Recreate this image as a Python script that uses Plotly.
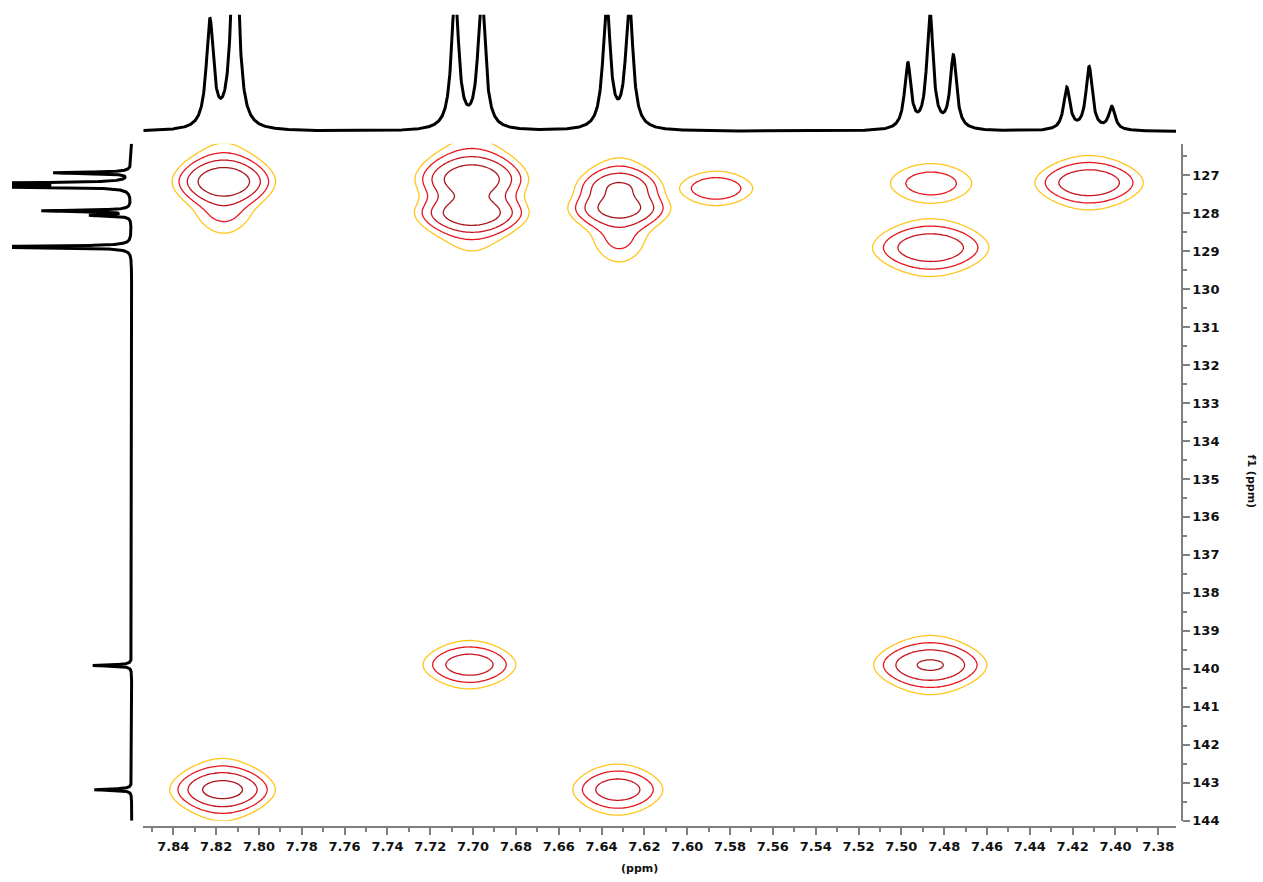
import numpy as np
import plotly.graph_objects as go

# ---------------- data ----------------
# 1H projection (top trace): line positions (ppm), heights (arb.), half widths (ppm)
h_shift = [7.8229, 7.8112, 7.7084, 7.6960, 7.6376, 7.6270,
           7.4970, 7.4866, 7.4757, 7.4227, 7.4123, 7.4017]
h_height = [107.6, 223, 138, 138, 129, 129, 66.3, 118, 73.8, 42.5, 63.6, 23.4]
h_hwhm = [0.00201, 0.00201, 0.00201, 0.00201, 0.00201, 0.00201,
          0.00178, 0.00178, 0.00178, 0.00178, 0.00178, 0.00178]

# 13C projection (left trace): line positions (ppm) and heights (arb.)
c_shift = [126.94, 127.22, 127.30, 127.94, 128.06, 128.89, 139.91, 143.18]
c_height = [77, 200, 200, 89, 40, 200, 39, 37.4]
c_hwhm = 0.02

# 2D cross peaks: group, f2 (1H) ppm, f1 (13C) ppm, amplitude, f2 width, f1 width
xp_group = [0, 0, 1, 1, 2, 2, 2, 3, 4, 5, 6, 7, 8, 9, 10]
xp_h = [7.8164, 7.8164, 7.7006, 7.7006, 7.6317, 7.6317, 7.6317, 7.5865,
        7.4861, 7.4863, 7.4123, 7.7017, 7.4865, 7.8170, 7.6324]
xp_c = [127.17, 128.05, 127.10, 128.00, 127.30, 127.88, 128.75, 127.35,
        127.22, 128.91, 127.20, 139.89, 139.90, 143.18, 143.18]
xp_amp = [15.7, 1.3, 14.2, 14.5, 7.3, 10.8, 1.6, 3.58,
          3.1, 7.6, 7.5, 6.5, 9.0, 11.3, 6.2]
xp_wh = [0.0103, 0.008, 0.0114, 0.0114, 0.0095, 0.0109, 0.008, 0.0107,
         0.0126, 0.0135, 0.0126, 0.0112, 0.0126, 0.0112, 0.0110]
xp_wc = [0.373, 0.373, 0.39, 0.326, 0.326, 0.326, 0.45, 0.313,
         0.39, 0.381, 0.36, 0.339, 0.365, 0.352, 0.365]

contour_levels_log2 = [0, 1, 2, 3, 4]  # levels 1, 2, 4, 8, 16
level_colors = ['#FFC61A', '#E8161E', '#C8141E', '#A8161C', '#8E1418']

x_range = [7.85401, 7.37173]
y_range = [144.0, 126.173]

# ---------------- build curves ----------------
def lorentz(x, x0, h, w):
    return h / (1.0 + ((x - x0) / w) ** 2)

def pvoigt(d, w):
    t2 = (d / w) ** 2
    return 0.5 / (1.0 + t2) + 0.5 * np.exp(-np.log(2) * t2)

hx = np.linspace(x_range[0], x_range[1], 3000)
hy = np.zeros_like(hx)
for s, h, w in zip(h_shift, h_height, h_hwhm):
    hy += lorentz(hx, s, h, w)

cy = np.linspace(126.17, 144.0, 9000)
cx = np.zeros_like(cy)
for s, h in zip(c_shift, c_height):
    cx += lorentz(cy, s, h, c_hwhm)

gx = np.arange(7.372, 7.855, 0.001)
gy = np.concatenate([np.arange(126.10, 130.2, 0.03),
                     np.arange(130.2, 138.5, 0.5),
                     np.arange(138.5, 144.1, 0.03)])
GX, GY = np.meshgrid(gx, gy)
groups = {}
for g, a, b, amp, wa, wb in zip(xp_group, xp_h, xp_c, xp_amp, xp_wh, xp_wc):
    comp = amp * np.exp(-0.5 * ((GX - a) / wa) ** 2) * pvoigt(GY - b, wb)
    groups[g] = groups.get(g, 0) + comp
Z = np.max(np.stack(list(groups.values())), axis=0)
ZL = np.log2(np.maximum(Z, 1e-3)).astype(np.float32)

# ---------------- figure ----------------
W, H = 1263, 882
def px_x(p):
    return p / W
def px_y(p):
    return 1 - p / H

fig = go.Figure()

n = len(level_colors) - 1
cscale = [[i / n, c] for i, c in enumerate(level_colors)]
fig.add_trace(go.Contour(
    x=gx, y=gy, z=ZL, xaxis='x', yaxis='y',
    autocontour=False,
    contours=dict(start=contour_levels_log2[0], end=contour_levels_log2[-1],
                  size=1, coloring='lines'),
    zauto=False, zmin=0, zmax=4, colorscale=cscale, showscale=False,
    line=dict(width=1.3, smoothing=1), hoverinfo='skip'))

fig.add_trace(go.Scatter(x=hx, y=hy, mode='lines', xaxis='x', yaxis='y2',
                         line=dict(color='black', width=3), hoverinfo='skip'))
fig.add_trace(go.Scatter(x=cx, y=cy, mode='lines', xaxis='x3', yaxis='y',
                         line=dict(color='black', width=3), hoverinfo='skip'))

tickfont = dict(family='DejaVu Sans', size=13, color='#111111', weight='bold')
axcol = '#808080'

fig.update_layout(
    width=W, height=H, margin=dict(l=0, r=0, t=0, b=0),
    paper_bgcolor='white', plot_bgcolor='white', showlegend=False,
    xaxis=dict(domain=[px_x(143.3), px_x(1176)], range=x_range,
               anchor='free', position=px_y(835),
               showgrid=False, zeroline=False, showline=True, linecolor=axcol,
               linewidth=2, ticks='outside', ticklen=7, tickwidth=1.5,
               tickcolor=axcol, tick0=0, dtick=0.02, tickformat='.2f',
               tickfont=tickfont,
               minor=dict(dtick=0.01, ticklen=4, tickcolor=axcol,
                          ticks='outside', showgrid=False)),
    yaxis=dict(domain=[px_y(828.3), px_y(145)], range=y_range,
               anchor='free', position=px_x(1181.7), side='right',
               showgrid=False, zeroline=False, showline=True, linecolor=axcol,
               linewidth=2, ticks='outside', ticklen=7, tickwidth=1.5,
               tickcolor=axcol, tick0=0, dtick=1, tickfont=tickfont,
               minor=dict(dtick=0.5, ticklen=4, tickcolor=axcol,
                          ticks='outside', showgrid=False)),
    yaxis2=dict(domain=[px_y(137), px_y(15)], range=[-4.3, 117.7],
                anchor='x', visible=False, showgrid=False, zeroline=False),
    xaxis3=dict(domain=[px_x(12), px_x(135)], range=[119.7, -3.3],
                anchor='free', position=0, visible=False, showgrid=False,
                zeroline=False),
    annotations=[
        dict(text='(ppm)', x=px_x(640), y=px_y(876), xref='paper',
             yref='paper', showarrow=False, xanchor='center',
             yanchor='middle',
             font=dict(family='DejaVu Sans', size=11, color='#111111',
                       weight='bold')),
        dict(text='f1 (ppm)', x=px_x(1251), y=px_y(486), xref='paper',
             yref='paper', showarrow=False, textangle=90,
             xanchor='center', yanchor='middle',
             font=dict(family='DejaVu Sans', size=11, color='#111111',
                       weight='bold')),
    ],
)

fig.write_html("out.html", post_script="document.body.style.margin='0';",
               config={'displayModeBar': False})
